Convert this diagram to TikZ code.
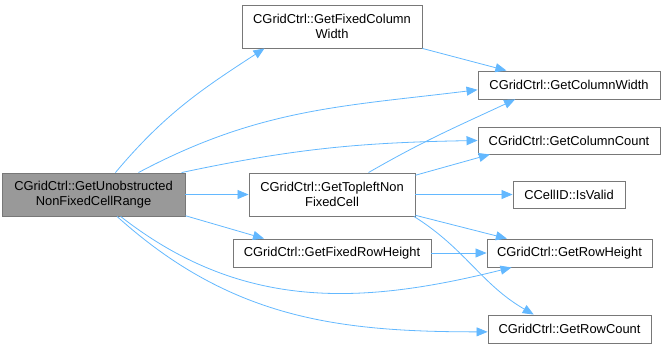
\documentclass[tikz,border=0pt]{standalone}
\usepackage{fontspec}
\setmainfont{Liberation Sans}
\usetikzlibrary{arrows.meta}

\definecolor{callblue}{RGB}{99,184,255}
\definecolor{boxgray}{RGB}{120,120,120}
\definecolor{rootfill}{RGB}{153,153,153}

\tikzset{
  fn/.style={draw=boxgray, line width=0.9pt, fill=white, inner sep=0pt, align=center,
    font=\fontsize{12.9pt}{15.5pt}\selectfont},
  root/.style={fn, fill=rootfill},
  call/.style={->, draw=callblue, line width=0.8pt},
}

\begin{document}
\begin{tikzpicture}[x=1pt, y=-1pt, >={Triangle[length=11pt,width=9pt]}]
    \useasboundingbox (0,0) rectangle (666,348);
    \node [root, minimum width=183pt, minimum height=43pt] (range) at (93.5, 194.5) {CGridCtrl::GetUnobstructed\\NonFixedCellRange} ;
    \node [fn, minimum width=180pt, minimum height=43pt] (fixcolw) at (332, 26.5) {CGridCtrl::GetFixedColumn\\Width} ;
    \node [fn, minimum width=166pt, minimum height=43pt] (topleft) at (332, 194.5) {CGridCtrl::GetTopleftNon\\FixedCell} ;
    \node [fn, minimum width=198pt, minimum height=28pt] (fixrowh) at (332, 253) {CGridCtrl::GetFixedRowHeight} ;
    \node [fn, minimum width=182pt, minimum height=28pt] (colw) at (569, 85) {CGridCtrl::GetColumnWidth} ;
    \node [fn, minimum width=182pt, minimum height=27pt] (colcount) at (569, 140.5) {CGridCtrl::GetColumnCount} ;
    \node [fn, minimum width=112pt, minimum height=27pt] (valid) at (569, 194.5) {CCellID::IsValid} ;
    \node [fn, minimum width=165pt, minimum height=28pt] (rowh) at (569.5, 253) {CGridCtrl::GetRowHeight} ;
    \node [fn, minimum width=163pt, minimum height=28pt] (rowcount) at (569.5, 329) {CGridCtrl::GetRowCount} ;
    \draw [call] (range.45) to [out=50, in=213] (fixcolw.198);
    \draw [call] (range.26) to [out=28, in=187] (colw.183);
    \draw [call] (range.14) to [out=12, in=181] (colcount.west);
    \draw [call] (range.east) -- (topleft.west);
    \draw [call] (range.-13) -- (fixrowh.168);
    \draw [call] (range.-39) to [out=-38, in=194] (rowh.194);
    \draw [call] (range.-43) to [out=-42, in=180] (rowcount.182);
    \draw [call] (fixcolw.south east) -- (colw.167);
    \draw [call] (topleft.31) to [out=30, in=205] (colw.195);
    \draw [call] (topleft.13) -- (colcount.190);
    \draw [call] (topleft.east) -- (valid.west);
    \draw [call] (topleft.-14) -- (rowh.167);
    \draw [call] (topleft.-15) to [out=-32, in=150] (rowcount.158);
    \draw [call] (fixrowh.east) -- (rowh.west);
  \end{tikzpicture}
\end{document}
